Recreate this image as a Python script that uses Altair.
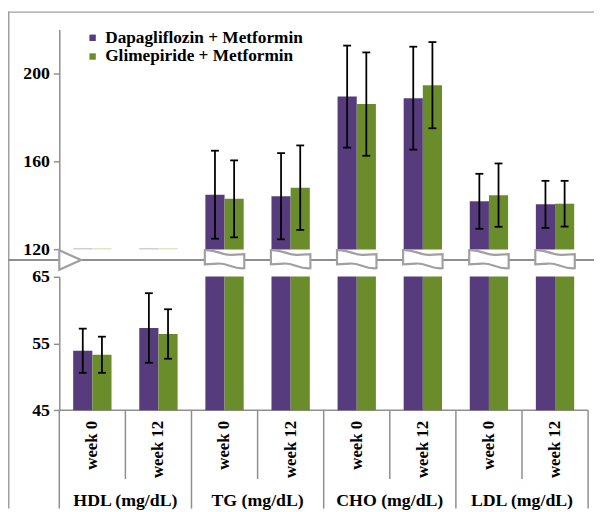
import altair as alt
import pandas as pd

# ---------------- data ----------------
groups = ["HDL (mg/dL)", "TG (mg/dL)", "CHO (mg/dL)", "LDL (mg/dL)"]
weeks = ["week 0", "week 12"]
drugs = ["Dapagliflozin + Metformin", "Glimepiride + Metformin"]

# order: HDL w0, HDL w12, TG w0, TG w12, CHO w0, CHO w12, LDL w0, LDL w12
dapa_mean = [53.9, 57.3, 144.9, 144.2, 189.5, 188.8, 141.9, 140.5]
dapa_sd = [3.3, 5.2, 20.0, 19.6, 23.2, 23.4, 12.5, 10.7]
glim_mean = [53.3, 56.4, 143.0, 148.1, 186.1, 194.7, 144.7, 140.8]
glim_sd = [2.7, 3.7, 17.5, 19.2, 23.5, 19.6, 14.4, 10.4]

upper_ticks = [120, 160, 200]
lower_ticks = [45, 55, 65]

# ---------------- styling ----------------
PURPLE = "#563C7C"
GREEN = "#6B8C2A"
FONT = "Liberation Serif, Times New Roman, Times, DejaVu Serif, serif"
GRAY = "#8f8f8f"
FRAME = "#a0a0a0"

W, H = 594, 504
X0, X1 = 52, 588
STEP = (X1 - X0) / 8

cats = [f"{g}|{w}" for g in groups for w in weeks]
rows = []
for i, c in enumerate(cats):
    g, w = c.split("|")
    rows.append(dict(cat=c, group=g, week=w, drug=drugs[0], mean=dapa_mean[i], sd=dapa_sd[i]))
    rows.append(dict(cat=c, group=g, week=w, drug=drugs[1], mean=glim_mean[i], sd=glim_sd[i]))
df = pd.DataFrame(rows)
cells = pd.DataFrame({"cat": cats,
                      "group": [c.split("|")[0] for c in cats],
                      "week": [c.split("|")[1] for c in cats]})
one = pd.DataFrame({"k": [0]})

XB = alt.Scale(domain=cats, range=[X0, X1], paddingInner=0.42, paddingOuter=0.21)
XC = alt.Scale(domain=cats, range=[X0, X1], paddingInner=0, paddingOuter=0)
XO = alt.Scale(domain=drugs, paddingInner=0, paddingOuter=0)
YU = alt.Scale(domain=[120, 220], range=[241.3, 18.4], nice=False, zero=False)
YL = alt.Scale(domain=[45, 65], range=[404.3, 268.7], nice=False, zero=False)
COL = alt.Scale(domain=drugs, range=[PURPLE, GREEN])
PALE = alt.Scale(domain=drugs, range=["#cdc4da", "#dde2bb"])

LEG = alt.Legend(orient="none", legendX=77, legendY=18, title=None,
                 symbolType="square", symbolSize=42, symbolStrokeWidth=0,
                 labelFont=FONT, labelFontWeight="bold", labelFontSize=17.5,
                 labelColor="black", rowPadding=0, labelOffset=4, padding=0,
                 labelLimit=0)


def yaxis(vals):
    return alt.Axis(orient="left", offset=-X0, values=vals, title=None, grid=False,
                    domainColor=GRAY, domainWidth=1.5, tickColor=GRAY, tickWidth=1.5,
                    tickSize=6, labelFont=FONT, labelFontWeight="bold", labelFontSize=18,
                    labelColor="black", labelPadding=4)


xb = alt.X("cat:N", scale=XB, axis=None)
xo = alt.XOffset("drug:N", scale=XO)

# ---------------- frame / break line ----------------
frame_left = alt.Chart(one).mark_rule(color=FRAME, strokeWidth=1.5).encode(
    x=alt.value(0.75), y=alt.value(0), y2=alt.value(H))
frame_top = alt.Chart(one).mark_rule(color=FRAME, strokeWidth=1.5).encode(
    x=alt.value(0), x2=alt.value(W), y=alt.value(0.75))
break_line = alt.Chart(one).mark_rule(color=GRAY, strokeWidth=2).encode(
    x=alt.value(0), x2=alt.value(W), y=alt.value(252))
x_line = alt.Chart(one).mark_rule(color=GRAY, strokeWidth=1.5).encode(
    x=alt.value(X0), x2=alt.value(X1), y=alt.value(404.3))

# ---------------- upper panel ----------------
up = alt.Chart(df).transform_filter("datum.mean >= 120")
up_bars = up.mark_bar().encode(
    x=xb, xOffset=xo,
    y=alt.Y("mean:Q", scale=YU, axis=yaxis(upper_ticks)),
    y2=alt.Y2Datum(120),
    color=alt.Color("drug:N", scale=COL, legend=LEG))
up_hdl = alt.Chart(df).transform_filter("datum.mean < 120").transform_calculate(
    b="120", b2="120.6").mark_bar().encode(
    x=xb, xOffset=xo,
    y=alt.Y("b:Q", scale=YU, axis=None), y2="b2:Q",
    fill=alt.Fill("drug:N", scale=PALE, legend=None))
up_e = up.transform_calculate(lo="datum.mean - datum.sd", hi="datum.mean + datum.sd")
up_err = up_e.mark_rule(color="black", strokeWidth=1.8).encode(
    x=xb, xOffset=xo, y=alt.Y("lo:Q", scale=YU, axis=None), y2="hi:Q")
up_cap = up_e.transform_fold(["lo", "hi"], as_=["end", "v"]).mark_tick(
    color="black", size=8, thickness=1.8, opacity=1).encode(
    x=xb, xOffset=xo, y=alt.Y("v:Q", scale=YU, axis=None))

# ---------------- lower panel ----------------
lo = alt.Chart(df).transform_calculate(v="min(datum.mean, 65)")
lo_bars = lo.mark_bar().encode(
    x=xb, xOffset=xo,
    y=alt.Y("v:Q", scale=YL, axis=yaxis(lower_ticks)),
    y2=alt.Y2Datum(45),
    color=alt.Color("drug:N", scale=COL, legend=LEG))
lo_e = alt.Chart(df).transform_filter("datum.mean < 65").transform_calculate(
    lo="datum.mean - datum.sd", hi="datum.mean + datum.sd")
lo_err = lo_e.mark_rule(color="black", strokeWidth=1.8).encode(
    x=xb, xOffset=xo, y=alt.Y("lo:Q", scale=YL, axis=None), y2="hi:Q")
lo_cap = lo_e.transform_fold(["lo", "hi"], as_=["end", "v"]).mark_tick(
    color="black", size=8, thickness=1.8, opacity=1).encode(
    x=xb, xOffset=xo, y=alt.Y("v:Q", scale=YL, axis=None))

# ---------------- break symbols ----------------
WAVE = ("M-1,-0.5 C-0.4,-0.55 -0.15,-0.22 0.35,-0.26 L1,-0.3 L1,0.42 "
        "C0.4,0.47 0.15,0.14 -0.35,0.18 L-1,0.22 Z")
TRI = "M-1,-0.9 L1,0 L-1,0.9 Z"
cell = alt.Chart(cells)
brk = cell.transform_filter("datum.group != 'HDL (mg/dL)'").mark_point(
    shape=WAVE, size=1600, filled=True, fill="white", stroke="#a0a0a0",
    strokeWidth=2.2, opacity=1).encode(
    x=alt.X("cat:N", scale=XC, axis=None), y=alt.value(252))
tri = alt.Chart(one).mark_point(
    shape=TRI, size=484, filled=True, fill="white", stroke="#a0a0a0",
    strokeWidth=2.2, opacity=1).encode(x=alt.value(X0 + 11), y=alt.value(252))

# ---------------- category axis ----------------
div_grp = cell.transform_filter("datum.week == 'week 0'").mark_rule(
    color=GRAY, strokeWidth=1.5).encode(
    x=alt.X("cat:N", scale=XC, axis=None, bandPosition=0),
    y=alt.value(404.3), y2=alt.value(H))
div_wk = cell.transform_filter("datum.week == 'week 12'").mark_rule(
    color=GRAY, strokeWidth=1.5).encode(
    x=alt.X("cat:N", scale=XC, axis=None, bandPosition=0),
    y=alt.value(404.3), y2=alt.value(474))
div_end = cell.transform_filter(alt.FieldEqualPredicate(field="cat", equal=cats[-1])).mark_rule(
    color=GRAY, strokeWidth=1.5).encode(
    x=alt.X("cat:N", scale=XC, axis=None, bandPosition=1),
    y=alt.value(404.3), y2=alt.value(H))
wk_text = cell.mark_text(angle=270, align="right", baseline="middle", font=FONT,
                         fontWeight="bold", fontSize=17, color="black").encode(
    x=alt.X("cat:N", scale=XC, axis=None), y=alt.value(415), text="week:N")
grp_text = cell.transform_filter("datum.week == 'week 12'").mark_text(
    align="center", baseline="middle", font=FONT, fontWeight="bold",
    fontSize=18, color="black", dx=-STEP / 2).encode(
    x=alt.X("cat:N", scale=XC, axis=None),
    y=alt.value(496), text="group:N")

chart = alt.layer(
    frame_left, frame_top, break_line, x_line,
    up_bars, up_hdl, lo_bars,
    brk, tri,
    up_err, up_cap, lo_err, lo_cap,
    div_grp, div_wk, div_end, wk_text, grp_text,
).resolve_scale(x="independent", y="independent").properties(
    width=W, height=H, padding=0, background="white",
    autosize=alt.AutoSizeParams(type="none"),
).configure_view(stroke=None)

chart.save("out.html", embed_options={"renderer": "svg", "actions": False})
